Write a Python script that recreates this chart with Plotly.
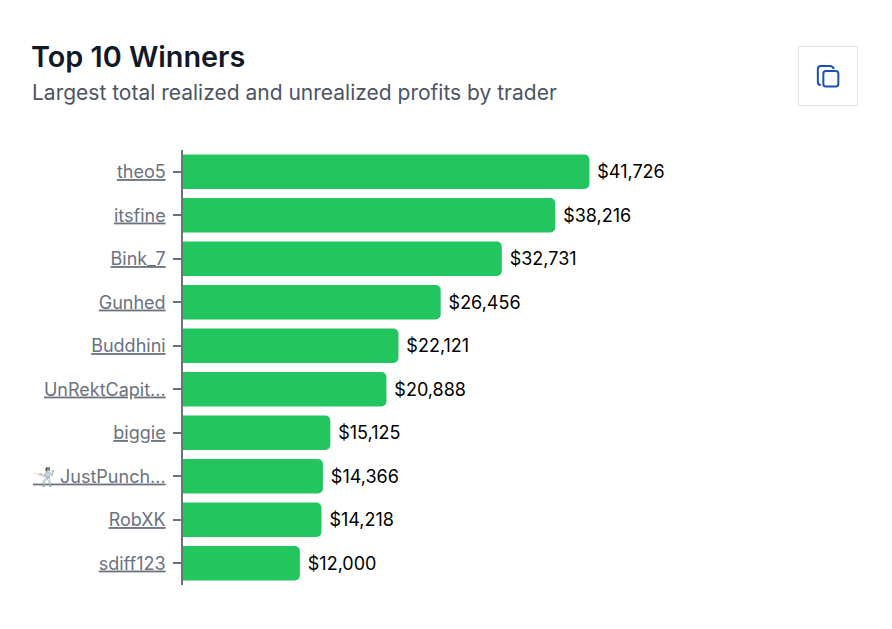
import plotly.graph_objects as go

traders = ["theo5", "itsfine", "Bink_7", "Gunhed", "Buddhini", "UnRektCapit...", "biggie",
           "🤺 JustPunch...", "RobXK", "sdiff123"]
profits = [41726, 38216, 32731, 26456, 22121, 20888, 15125, 14366, 14218, 12000]
title = "Top 10 Winners"
subtitle = "Largest total realized and unrealized profits by trader"

W, H = 892, 629
L, R, T, B = 182.5, 222, 150, 44
FONT = "Inter"

fig = go.Figure(go.Bar(
    x=profits, y=traders, orientation="h",
    marker=dict(color="#22c55e", cornerradius=5, line_width=0),
    text=["\u2009\u200a$" + format(v, ",") for v in profits],
    textposition="outside", cliponaxis=False,
    textfont=dict(family=FONT, size=18, color="#000000"),
    hoverinfo="skip",
))

def px(x): return (x - L) / (W - L - R)
def py(y): return 1 - (y - T) / (H - T - B)

shapes = [
    dict(type="rect", xref="paper", yref="paper", x0=px(798.5), x1=px(857.5), y0=py(46.5), y1=py(105.5),
         line=dict(color="#e5e7eb", width=1), fillcolor="#ffffff"),
    dict(type="path", xref="paper", yref="paper", line=dict(color="#1d4fb8", width=2),
         path=f"M {px(821)} {py(85)} Q {px(818)} {py(85)} {px(818)} {py(82)} L {px(818)} {py(69)} "
              f"Q {px(818)} {py(66)} {px(821)} {py(66)} L {px(830)} {py(66)} Q {px(833)} {py(66)} {px(834)} {py(69)}"),
    dict(type="path", xref="paper", yref="paper", line=dict(color="#1d4fb8", width=2),
         path=f"M {px(826)} {py(71)} L {px(836)} {py(71)} Q {px(838.5)} {py(71)} {px(838.5)} {py(73.5)} "
              f"L {px(838.5)} {py(84)} Q {px(838.5)} {py(86.5)} {px(836)} {py(86.5)} L {px(826)} {py(86.5)} "
              f"Q {px(823.5)} {py(86.5)} {px(823.5)} {py(84)} L {px(823.5)} {py(73.5)} Q {px(823.5)} {py(71)} {px(826)} {py(71)} Z"),
]

fig.update_layout(
    width=W, height=H, autosize=False,
    margin=dict(l=L, r=R, t=T, b=B, pad=0),
    paper_bgcolor="#ffffff", plot_bgcolor="#ffffff",
    bargap=0.21, showlegend=False, font=dict(family=FONT),
    shapes=shapes,
    annotations=[
        dict(text=title, xref="paper", yref="paper", x=px(28.5), y=py(56.5), xanchor="left", yanchor="middle",
             showarrow=False, font=dict(family=FONT, size=28.8, weight=600, color="#111827")),
        dict(text=subtitle, xref="paper", yref="paper", x=px(29.5), y=py(92), xanchor="left", yanchor="middle",
             showarrow=False, font=dict(family=FONT, size=21, color="#4b5563")),
    ],
    xaxis=dict(range=[0, 50000], visible=False),
    yaxis=dict(
        autorange="reversed", type="category",
        tickmode="array", tickvals=traders, ticktext=[f"<u>{t}</u>" for t in traders],
        tickfont=dict(family=FONT, size=18, color="#6b7280"),
        showline=True, linecolor="#6b7280", linewidth=1.5,
        ticks="outside", ticklen=8, tickcolor="#6b7280", tickwidth=1.5,
        ticklabelstandoff=4, showgrid=False, zeroline=False,
    ),
)

fig.write_html("out.html", config=dict(displayModeBar=False),
               post_script="document.body.style.margin='0';")
